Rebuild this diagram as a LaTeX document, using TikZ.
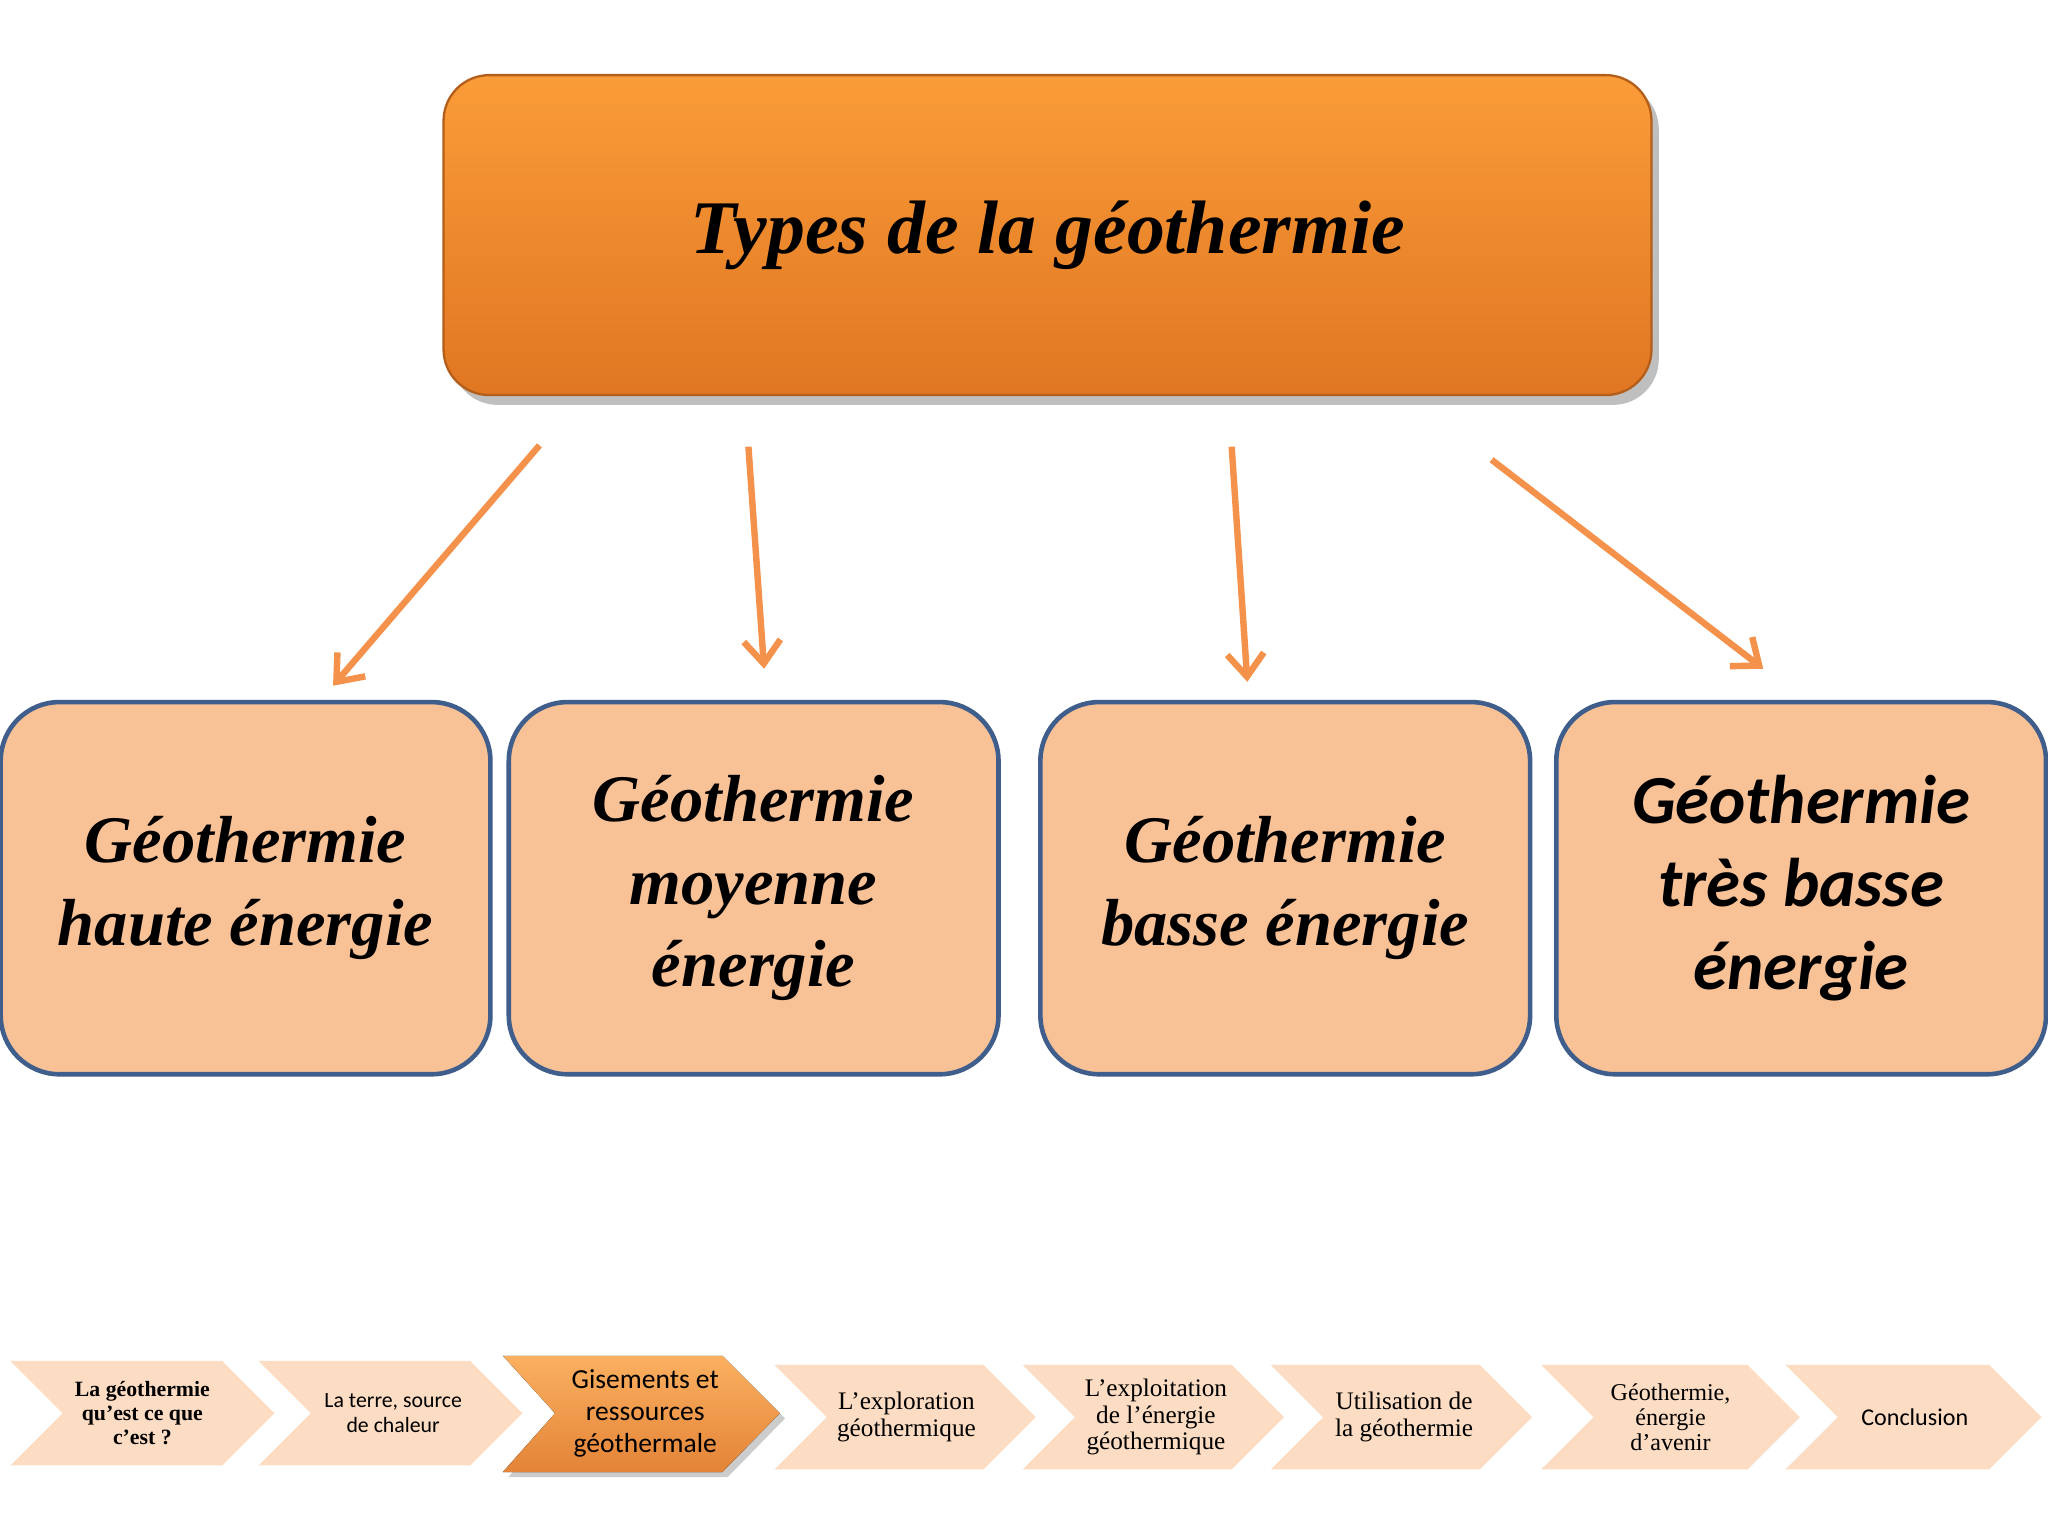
\documentclass[tikz,border=0pt]{standalone}
\usepackage{fontspec}
\setmainfont{Liberation Serif}
\newfontfamily\carl{Carlito}
\usetikzlibrary{arrows.meta}
\definecolor{boxfill}{HTML}{F9C196}
\definecolor{boxline}{HTML}{3F5E8C}
\definecolor{arr}{HTML}{F4914A}
\definecolor{chev}{HTML}{FCDCC2}
\definecolor{otop}{HTML}{FA9C38}
\definecolor{obot}{HTML}{E07622}
\begin{document}
\begin{tikzpicture}[x=0.02cm,y=-0.02cm,
  typebox/.style={draw=boxline,line width=2pt,fill=boxfill,rounded corners=0.9cm,minimum width=7.5cm,minimum height=5.7cm,align=center,inner sep=0pt},
  typetxt/.style={font=\fontsize{29}{36}\selectfont\bfseries\itshape},
  arrline/.style={draw=arr,line width=2.8pt,-{Straight Barb[length=10pt,width=16pt,line width=2.8pt]}},
  chevtxt/.style={align=center,font=\fontsize{9.5}{10.5}\selectfont,inner sep=0pt}]
\useasboundingbox (0,0) rectangle (1568,1176);
\fill[white] (0,0) rectangle (1568,1176);
% top box
\fill[black!25,rounded corners=0.7cm] (346,64) rectangle (1270,310);
\node[draw=obot!80!black,line width=1pt,top color=otop,bottom color=obot,rounded corners=0.7cm,minimum width=18.5cm,minimum height=4.9cm,inner sep=0pt,font=\fontsize{33}{40}\selectfont\bfseries\itshape] (top) at (802,180) {Types de la géothermie};
% type boxes
\node[typebox,typetxt] (b1) at (188,680) {Géothermie\\haute énergie};
\node[typebox,typetxt] (b2) at (577,680) {Géothermie\\moyenne\\énergie};
\node[typebox,typetxt] (b3) at (984,680) {Géothermie\\basse énergie};
\node[typebox,font=\carl\fontsize{30}{36}\selectfont\bfseries\itshape] (b4) at (1379,680) {Géothermie\\très basse\\énergie};
% arrows
\coordinate (s1) at (413,341); \coordinate (e1) at (255,525);
\coordinate (s2) at (573,342); \coordinate (e2) at (585,512);
\coordinate (s3) at (943,342); \coordinate (e3) at (955,522);
\coordinate (s4) at (1142,352); \coordinate (e4) at (1350,512);
\draw[arrline] (s1) -- (e1);
\draw[arrline] (s2) -- (e2);
\draw[arrline] (s3) -- (e3);
\draw[arrline] (s4) -- (e4);
% chevrons
\newcommand{\chevron}[5]{% x0 x1 yt yb fill
  \fill[#5] (#1,#3) -- (#2-40,#3) -- (#2,{(#3+#4)/2}) -- (#2-40,#4) -- (#1,#4) -- (#1+40,{(#3+#4)/2}) -- cycle;}
\chevron{8}{210}{1042}{1122}{chev}
\chevron{198}{400}{1042}{1122}{chev}
\chevron{593}{793}{1045}{1125}{chev}
\chevron{783}{983}{1045}{1125}{chev}
\chevron{973}{1173}{1045}{1125}{chev}
\chevron{1180}{1378}{1045}{1125}{chev}
\chevron{1367}{1563}{1045}{1125}{chev}
\fill[black!20] (389,1042) -- (557,1042) -- (601,1086) -- (557,1131) -- (389,1131) -- (429,1086) -- cycle;
\fill[top color=otop!80!white,bottom color=obot!90!white] (385,1038) -- (553,1038) -- (597,1082) -- (553,1127) -- (385,1127) -- (425,1082) -- cycle;
\node[chevtxt,font=\fontsize{9.5}{10.5}\selectfont\bfseries] (c1) at (109,1082) {La géothermie\\qu’est ce que\\c’est ?};
\node[chevtxt,font=\carl\fontsize{9.5}{11}\selectfont] (c2) at (301,1082) {La terre, source\\de chaleur};
\node[chevtxt,font=\carl\fontsize{12}{14}\selectfont] (c3) at (494,1082) {Gisements et\\ressources\\géothermale};
\node[chevtxt,font=\fontsize{11}{11.5}\selectfont] (c4) at (694,1085) {L’exploration\\géothermique};
\node[chevtxt,font=\fontsize{11}{11.5}\selectfont] (c5) at (885,1085) {L’exploitation\\de l’énergie\\géothermique};
\node[chevtxt,font=\fontsize{11}{11.5}\selectfont] (c6) at (1075,1085) {Utilisation de\\la géothermie};
\node[chevtxt,font=\fontsize{10.5}{11}\selectfont] (c7) at (1279,1085) {Géothermie,\\énergie\\d’avenir};
\node[chevtxt,font=\carl\fontsize{10.5}{12}\selectfont] (c8) at (1466,1085) {Conclusion};
\end{tikzpicture}
\end{document}
